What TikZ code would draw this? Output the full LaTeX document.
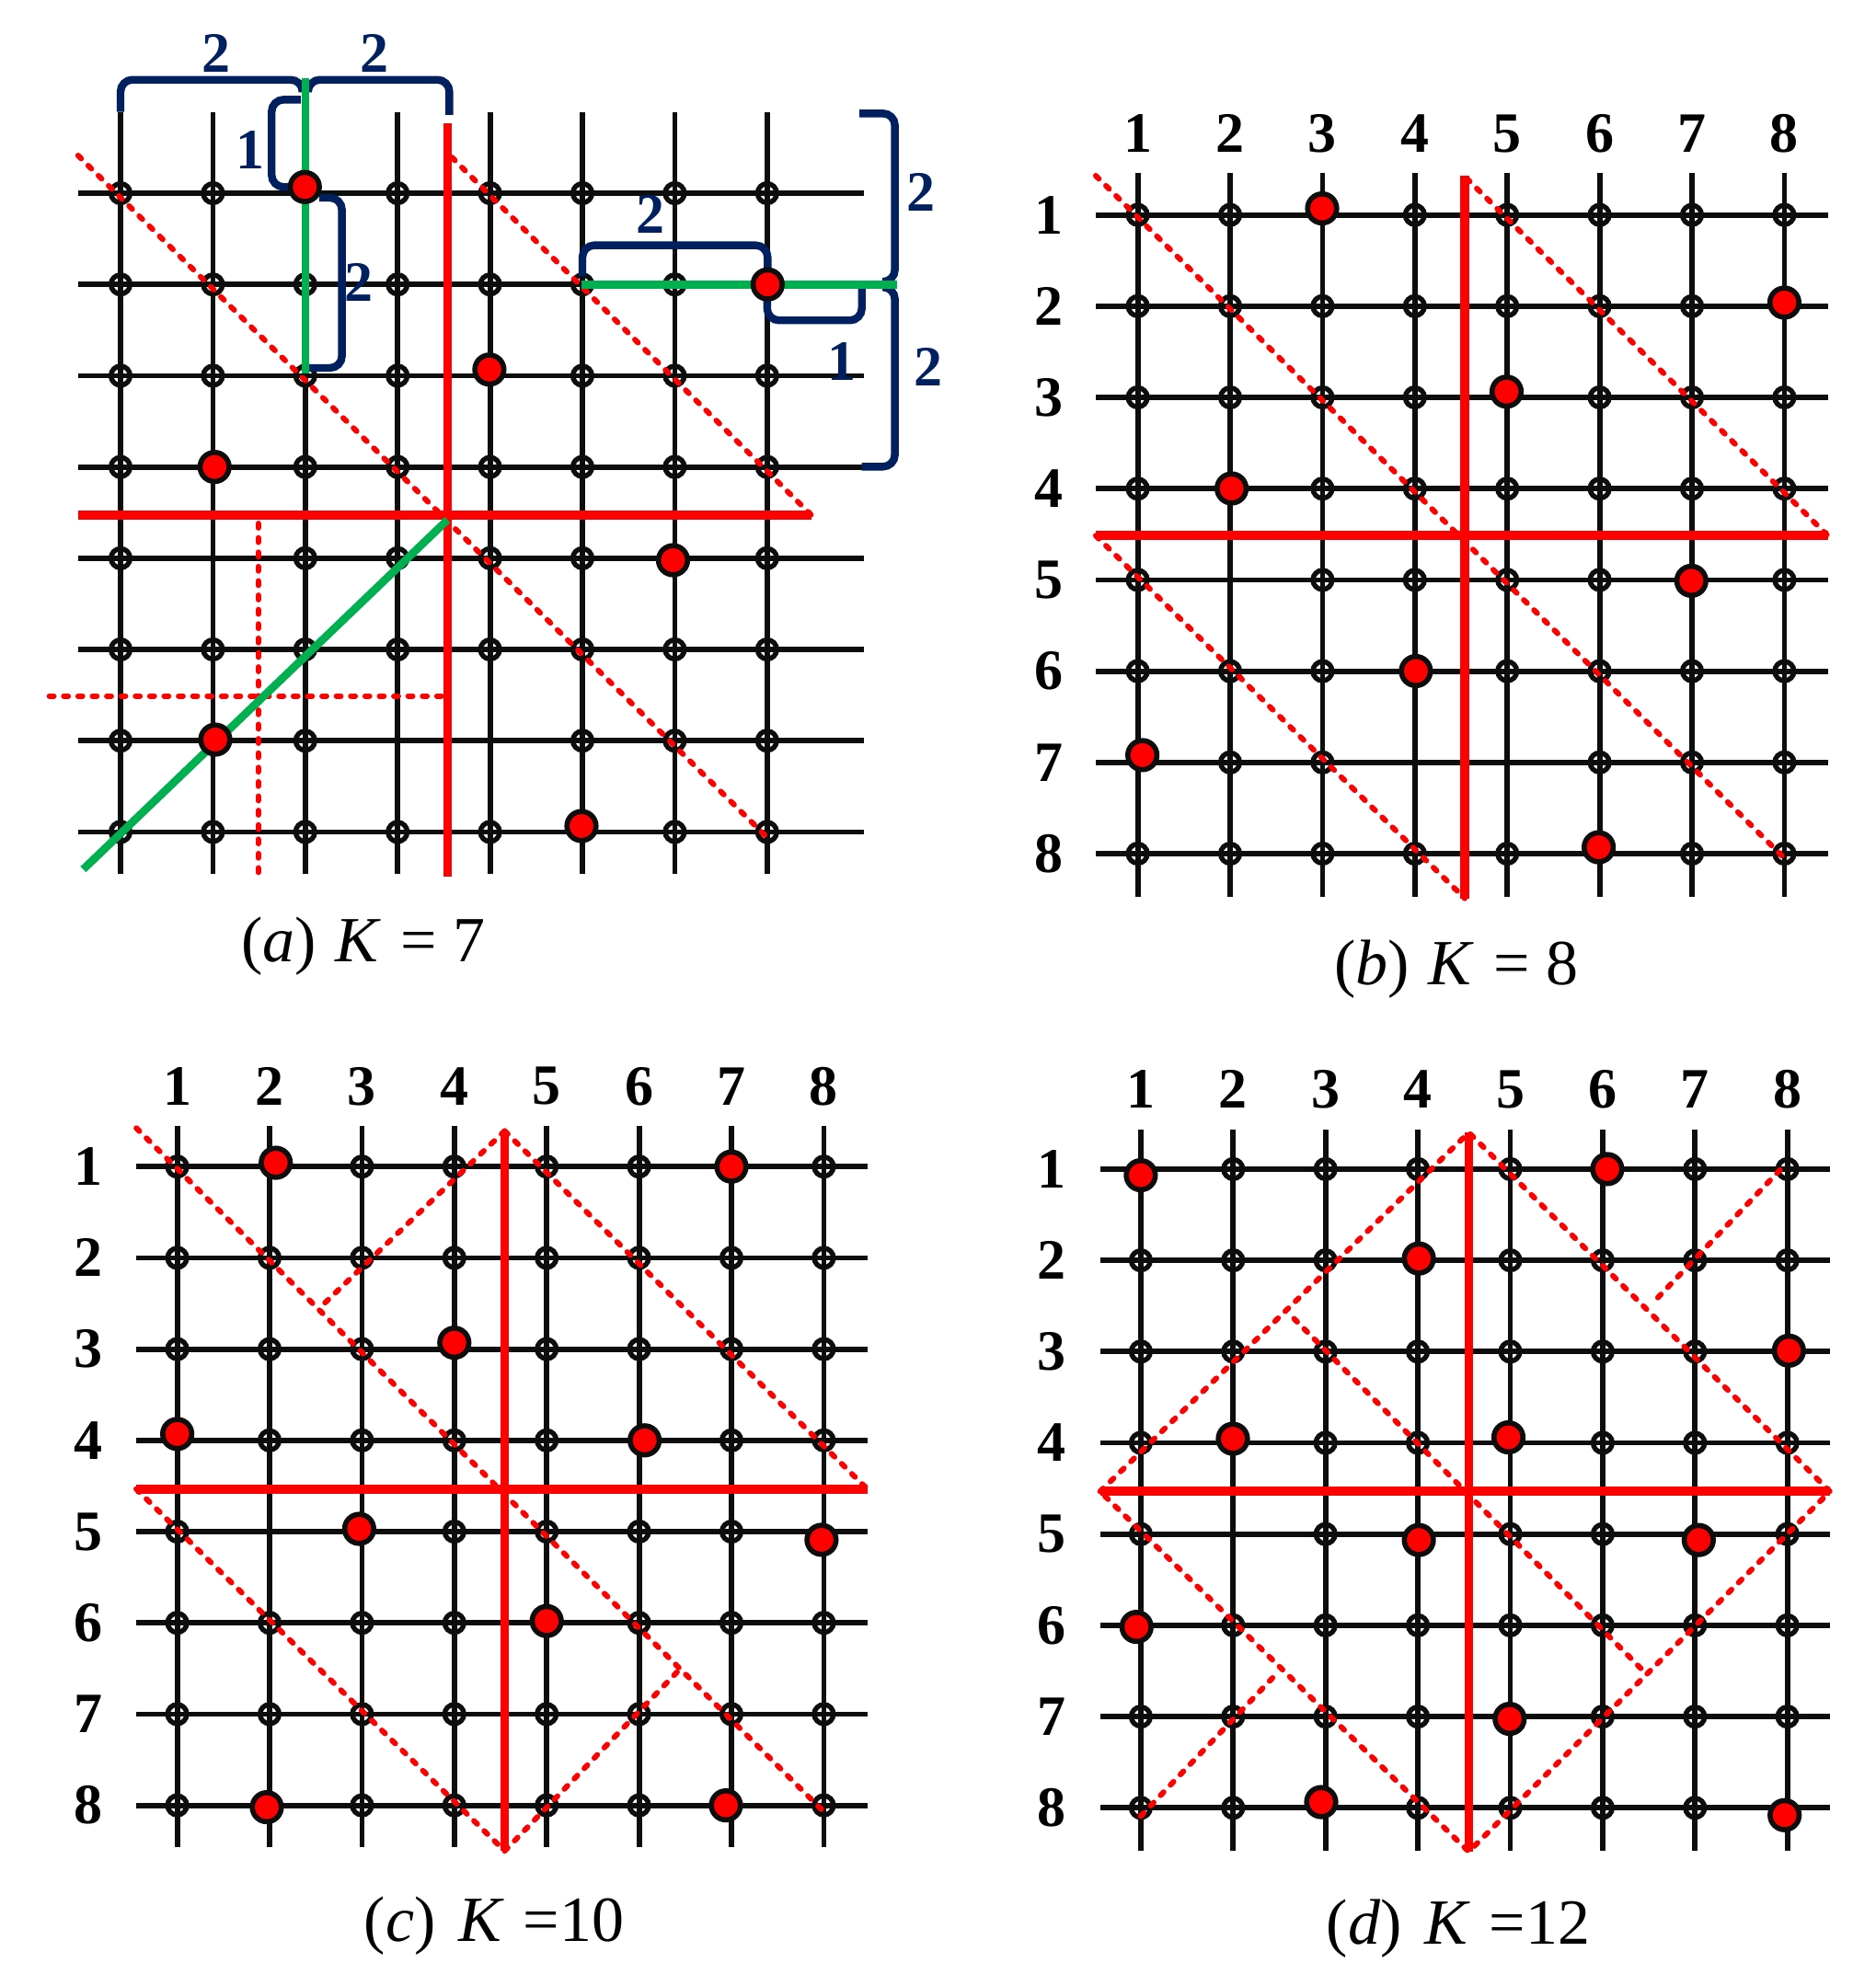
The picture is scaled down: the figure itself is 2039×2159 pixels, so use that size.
\documentclass[tikz,border=0pt]{standalone}
\usepackage{fontspec}
\setmainfont{Liberation Serif}
\definecolor{navy}{RGB}{0,32,96}
\definecolor{grn}{RGB}{0,176,80}
\definecolor{rd}{RGB}{255,0,0}
\definecolor{ink}{RGB}{13,13,13}

\newcommand\skipset[2]{\foreach \pp in {#2}{\expandafter\xdef\csname sk#1-\pp\endcsname{}}}
\newcommand\ringsof[1]{\foreach \rr in {1,...,8}{\foreach \cc in {1,...,8}{%
  \ifcsname sk#1-\rr-\cc\endcsname\else\draw[ring] (\cc,\rr) circle[radius=5.2pt];\fi}}}
\newcommand\gridof[4]{\foreach \kk in {1,...,8}{%
  \draw[gridline] (#1,\kk) -- (#2,\kk); \draw[gridline] (\kk,#3) -- (\kk,#4);}}
\newcommand\labelsof[3]{\foreach \kk in {1,...,8}{%
  \node[lab] (#1c\kk) at (\kk,#2) {\kk}; \node[lab] (#1r\kk) at (#3,\kk) {\kk};}}

\begin{document}
\begin{tikzpicture}[x=0.5pt,y=-0.5pt,
  gridline/.style={line width=2.9pt, ink},
  ring/.style={line width=2.7pt, ink},
  reddot/.style={fill=rd, draw=ink, line width=2.8pt},
  redline/.style={line width=4.9pt, rd},
  reddash/.style={rd, line width=3pt, line cap=round, dash pattern=on 2.4pt off 5.4pt},
  greenline/.style={line width=4.3pt, grn},
  bracket/.style={line width=4.2pt, navy, rounded corners=6.5pt},
  lab/.style={font=\bfseries\fontsize{31}{31}\selectfont, inner sep=0pt},
  blab/.style={lab, text=navy},
  capt/.style={font=\fontsize{35}{35}\selectfont, anchor=base, inner sep=0pt},
]
\useasboundingbox (0,0) rectangle (2039,2159);

% ---------------- panel (a) ----------------
\begin{scope}[shift={(30.6,110.8)}, x=50.2pt, y=-49.6pt]
  \gridof{0.54}{9.05}{0.117}{8.46}
  \skipset{A}{1-3,2-8,3-5,4-2,5-7,7-2,8-6,5-2,7-4,7-5}
  \ringsof{A}
  % brackets
  \draw[bracket] (1,0.11) -- (1,-0.243) -- (2.97,-0.243) -- (2.97,-0.12);
  \draw[bracket] (3.03,-0.12) -- (3.03,-0.243) -- (4.56,-0.243) -- (4.56,0.143);
  \draw[bracket] (2.95,-0.025) -- (2.636,-0.025) -- (2.636,0.932) -- (2.86,0.932);
  \draw[bracket] (3.15,1.05) -- (3.397,1.05) -- (3.397,2.915) -- (3.03,2.915);
  \draw[bracket] (6,1.91) -- (6,1.571) -- (8.005,1.571) -- (8.005,1.85);
  \draw[bracket] (8,2.15) -- (8,2.394) -- (9.025,2.394) -- (9.025,2.05);
  \draw[bracket] (9.0,0.126) -- (9.383,0.126) -- (9.383,1.97) -- (9.28,1.97);
  \draw[bracket] (9.28,2.03) -- (9.383,2.03) -- (9.383,3.997) -- (9.025,3.997);
  \node[blab] (a2l) at (2.036,-0.532) {2};
  \node[blab] (a2r) at (3.747,-0.532) {2};
  \node[blab] (a1v) at (2.4,0.53) {1};
  \node[blab] (a2v) at (3.58,1.98) {2};
  \node[blab] (a2h) at (6.734,1.235) {2};
  \node[blab] (a1h) at (8.809,2.848) {1};
  \node[blab] (a2u) at (9.663,0.99) {2};
  \node[blab] (a2d) at (9.747,2.908) {2};
  % red solid
  \draw[redline] (4.54,0.234) -- (4.54,8.49);
  \draw[redline] (0.54,4.53) -- (8.48,4.53);
  % dashed
  \draw[reddash] (0.54,0.587) -- (8.02,8.08);
  \draw[reddash] (4.586,0.607) -- (8.48,4.53);
  \draw[reddash] (2.49,4.62) -- (2.49,8.47);
  \draw[reddash] (0.23,6.51) -- (4.48,6.51);
  % green
  \draw[greenline] (3,-0.26) -- (3,2.98);
  \draw[greenline] (5.987,2) -- (9.406,2);
  \draw[greenline] (0.596,8.41) -- (4.54,4.58);
  % red dots
  \foreach \cc/\rr in {2.995/0.932,4.993/2.933,2.018/4.0,8.005/2,6.981/5.022,2.026/6.988,5.99/7.935}
    \draw[reddot] (\cc,\rr) circle[radius=7.9pt];
\end{scope}
\node[capt] (capa) at (395,1045) {(\textit{a})\hspace{0.3em}\textit{K}\hspace{0.3em}=\hspace{0.25em}7};

% ---------------- panel (b) ----------------
\begin{scope}[shift={(1136.2,134.4)}, x=50.2pt, y=-49.6pt]
  \gridof{0.55}{8.47}{0.54}{8.47}
  \skipset{B}{1-3,2-8,3-5,4-2,5-7,6-4,7-1,8-6,5-2,7-4,7-5}
  \ringsof{B}
  \draw[redline] (4.54,0.57) -- (4.54,8.49);
  \draw[redline] (0.545,4.515) -- (8.47,4.515);
  \draw[reddash] (0.545,0.57) -- (8,8.05);
  \draw[reddash] (4.56,0.6) -- (8.47,4.515);
  \draw[reddash] (0.545,4.515) -- (4.54,8.49);
  \foreach \cc/\rr in {2.996/0.929,8/1.961,4.993/2.937,2.016/3.998,6.993/5.01,4.011/5.999,1.05/6.92,5.99/7.93}
    \draw[reddot] (\cc,\rr) circle[radius=7.9pt];
  \labelsof{b}{0.107}{0.04}
\end{scope}
\node[capt] (capb) at (1583,1070) {(\textit{b})\hspace{0.3em}\textit{K}\hspace{0.3em}=\hspace{0.25em}8};

% ---------------- panel (c) ----------------
\begin{scope}[shift={(92.2,1169)}, x=50.2pt, y=-49.6pt]
  \gridof{0.556}{8.47}{0.55}{8.46}
  \skipset{C}{1-2,1-7,3-4,4-1,4-6,5-3,5-8,6-5,8-2,8-7,5-2}
  \ringsof{C}
  \draw[redline] (4.545,0.61) -- (4.545,8.5);
  \draw[redline] (0.556,4.533) -- (8.47,4.533);
  \draw[reddash] (0.557,0.578) -- (8,8.07);
  \draw[reddash] (4.545,0.61) -- (8.47,4.533);
  \draw[reddash] (0.556,4.533) -- (4.545,8.5);
  \draw[reddash] (4.545,0.61) -- (2.53,2.56);
  \draw[reddash] (4.545,8.5) -- (6.43,6.52);
  \foreach \cc/\rr in {2.067/0.958,7/1,4/2.93,1/3.93,6.06/4,2.97/4.97,7.975/5.09,5/5.98,1.97/8.02,6.94/8}
    \draw[reddot] (\cc,\rr) circle[radius=7.9pt];
  \labelsof{c}{0.12}{0.035}
\end{scope}
\node[capt] (capc) at (537,2110) {(\textit{c})\hspace{0.35em}\textit{K}\hspace{0.3em}=10};

% ---------------- panel (d) ----------------
\begin{scope}[shift={(1139.5,1171.7)}, x=50.2pt, y=-49.6pt]
  \gridof{0.558}{8.46}{0.57}{8.47}
  \skipset{D}{1-1,1-6,2-4,3-8,4-2,4-5,5-4,5-7,6-1,7-5,8-3,8-8,5-2}
  \ringsof{D}
  \draw[redline] (4.551,0.6) -- (4.551,8.48);
  \draw[redline] (0.56,4.533) -- (8.46,4.533);
  \draw[reddash] (0.56,4.533) -- (4.551,0.6) -- (8.46,4.533) -- (4.551,8.48) -- cycle;
  \draw[reddash] (2.66,2.64) -- (6.47,6.53);
  \draw[reddash] (7.92,1.01) -- (6.53,2.48);
  \draw[reddash] (1,8.09) -- (2.47,6.53);
  \foreach \cc/\rr in {1/1.067,6.05/1,4.01/1.98,8.016/2.99,1.997/3.955,4.98/3.94,4.01/5.065,7.04/5.065,0.954/6.017,4.993/7.025,2.953/7.937,7.97/8.08}
    \draw[reddot] (\cc,\rr) circle[radius=7.9pt];
  \labelsof{d}{0.128}{0.03}
\end{scope}
\node[capt] (capd) at (1585,2113) {(\textit{d})\hspace{0.35em}\textit{K}\hspace{0.3em}=12};
\end{tikzpicture}
\end{document}
